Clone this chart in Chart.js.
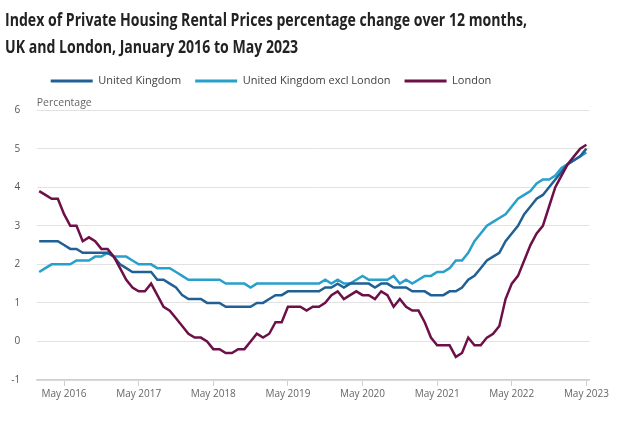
<!DOCTYPE html>
<html><head><meta charset="utf-8">
<script src="https://cdn.jsdelivr.net/npm/chart.js@4"></script>
<style>
html,body{margin:0;padding:0;background:#fff;}
#wrap{position:relative;width:634px;height:427px;overflow:hidden;background:#fff;}
canvas{position:absolute;left:0;top:0;}
#title{position:absolute;left:5px;top:6px;font-family:'Open Sans',sans-serif;font-weight:700;font-size:17px;line-height:27px;color:#222;white-space:nowrap;transform-origin:0 0;}
#title div{display:inline-block;}
</style></head><body>
<div id="wrap">
<canvas id="c" width="634" height="427"></canvas>
<div id="title"><div id="t1"></div><br><div id="t2"></div></div>
</div>
<script>
const titleLines = ['Index of Private Housing Rental Prices percentage change over 12 months,', 'UK and London, January 2016 to May 2023'];
const yAxisLabel = 'Percentage';
const seriesNames = ['United Kingdom', 'United Kingdom excl London', 'London'];
const monthNames = ['Jan','Feb','Mar','Apr','May','Jun','Jul','Aug','Sep','Oct','Nov','Dec'];
const years = [2016, 2017, 2018, 2019, 2020, 2021, 2022, 2023];
const categories = [];
years.forEach(y => monthNames.forEach(m => categories.push(m + ' ' + y)));
categories.length = 89; // January 2016 to May 2023

const ukValues = [
  2.6, 2.6, 2.6, 2.6, 2.5, 2.4, 2.4, 2.3, 2.3, 2.3, 2.3, 2.3,
  2.2, 2.0, 1.9, 1.8, 1.8, 1.8, 1.8, 1.6, 1.6, 1.5, 1.4, 1.2,
  1.1, 1.1, 1.1, 1.0, 1.0, 1.0, 0.9, 0.9, 0.9, 0.9, 0.9, 1.0,
  1.0, 1.1, 1.2, 1.2, 1.3, 1.3, 1.3, 1.3, 1.3, 1.3, 1.4, 1.4,
  1.5, 1.4, 1.5, 1.5, 1.5, 1.5, 1.4, 1.5, 1.5, 1.4, 1.4, 1.4,
  1.3, 1.3, 1.3, 1.2, 1.2, 1.2, 1.3, 1.3, 1.4, 1.6, 1.7, 1.9,
  2.1, 2.2, 2.3, 2.6, 2.8, 3.0, 3.3, 3.5, 3.7, 3.8, 4.0, 4.2,
  4.4, 4.6, 4.7, 4.8, 5.0
];
const ukExclLondonValues = [
  1.8, 1.9, 2.0, 2.0, 2.0, 2.0, 2.1, 2.1, 2.1, 2.2, 2.2, 2.3,
  2.2, 2.2, 2.2, 2.1, 2.0, 2.0, 2.0, 1.9, 1.9, 1.9, 1.8, 1.7,
  1.6, 1.6, 1.6, 1.6, 1.6, 1.6, 1.5, 1.5, 1.5, 1.5, 1.4, 1.5,
  1.5, 1.5, 1.5, 1.5, 1.5, 1.5, 1.5, 1.5, 1.5, 1.5, 1.6, 1.5,
  1.6, 1.5, 1.5, 1.6, 1.7, 1.6, 1.6, 1.6, 1.6, 1.7, 1.5, 1.6,
  1.5, 1.6, 1.7, 1.7, 1.8, 1.8, 1.9, 2.1, 2.1, 2.3, 2.6, 2.8,
  3.0, 3.1, 3.2, 3.3, 3.5, 3.7, 3.8, 3.9, 4.1, 4.2, 4.2, 4.3,
  4.5, 4.6, 4.7, 4.8, 4.9
];
const londonValues = [
  3.9, 3.8, 3.7, 3.7, 3.3, 3.0, 3.0, 2.6, 2.7, 2.6, 2.4, 2.4,
  2.2, 1.9, 1.6, 1.4, 1.3, 1.3, 1.5, 1.2, 0.9, 0.8, 0.6, 0.4,
  0.2, 0.1, 0.1, 0.0, -0.2, -0.2, -0.3, -0.3, -0.2, -0.2, 0.0, 0.2,
  0.1, 0.2, 0.5, 0.5, 0.9, 0.9, 0.9, 0.8, 0.9, 0.9, 1.0, 1.2,
  1.3, 1.1, 1.2, 1.3, 1.2, 1.2, 1.1, 1.3, 1.2, 0.9, 1.1, 0.9,
  0.8, 0.8, 0.5, 0.1, -0.1, -0.1, -0.1, -0.4, -0.3, 0.1, -0.1, -0.1,
  0.1, 0.2, 0.4, 1.1, 1.5, 1.7, 2.1, 2.5, 2.8, 3.0, 3.5, 4.0,
  4.3, 4.6, 4.8, 5.0, 5.1
];
const yTicks = [-1, 0, 1, 2, 3, 4, 5, 6];
const xTickLabels = ['May 2016','May 2017','May 2018','May 2019','May 2020','May 2021','May 2022','May 2023'];
const colors = ['#206095', '#27a0cc', '#6e1048'];

// title text
document.getElementById('t1').textContent = titleLines[0];
document.getElementById('t2').textContent = titleLines[1];
const w1 = document.getElementById('t1').getBoundingClientRect().width;
document.getElementById('title').style.transform = 'scaleX(' + (522 / w1) + ')';

const toPoints = vals => vals.map((v, i) => ({x: i, y: v}));
const seriesValues = [ukValues, ukExclLondonValues, londonValues];
const xTickIdx = xTickLabels.map(l => categories.indexOf(l));

Chart.defaults.font.family = "'Open Sans', sans-serif";

new Chart(document.getElementById('c'), {
  type: 'line',
  data: {
    datasets: seriesNames.map((name, k) => ({
      label: name,
      data: toPoints(seriesValues[k]),
      borderColor: colors[k],
      backgroundColor: colors[k],
      borderWidth: 2.5,
      pointRadius: 0,
      tension: 0,
      fill: false,
      order: k === 2 ? 0 : (k === 0 ? 1 : 2)
    }))
  },
  options: {
    responsive: false,
    animation: false,
    devicePixelRatio: 1,
    layout: {padding: {top: 61.5, left: 0, right: 44.5, bottom: 25}},
    plugins: {
      legend: {
        position: 'top', align: 'start', fullSize: false,
        labels: {
          boxWidth: 42, boxHeight: 3, padding: 14,
          color: '#414042',
          font: {size: 11},
          sort: (a, b) => a.datasetIndex - b.datasetIndex,
          generateLabels: chart => Chart.defaults.plugins.legend.labels.generateLabels(chart).map(l => Object.assign(l, {lineWidth: 0}))
        }
      },
      title: {
        display: true, text: yAxisLabel, position: 'top', align: 'start', fullSize: false, weight: 500,
        color: '#666', font: {size: 10.5, weight: 'normal'}, padding: {top: 0, bottom: 1}
      },
      tooltip: {enabled: false}
    },
    scales: {
      x: {
        type: 'linear', min: -0.4, max: 88.5,
        afterBuildTicks: s => { s.ticks = xTickIdx.map(v => ({value: v})); },
        ticks: {callback: v => categories[v], color: '#666', font: {size: 10}, padding: 2, maxRotation: 0, autoSkip: false},
        grid: {drawOnChartArea: false, drawTicks: true, tickLength: 6, tickColor: '#cfcfcf', tickWidth: 1},
        border: {display: true, color: '#cfcfcf', width: 1.5}
      },
      y: {
        min: -1, max: 6,
        afterBuildTicks: s => { s.ticks = yTicks.map(v => ({value: v})); },
        afterFit: s => { s.width = 36.7; },
        ticks: {color: '#555', font: {size: 10}, padding: 16.5},
        grid: {color: '#e2e2e2', lineWidth: 1, drawTicks: false},
        border: {display: false}
      }
    }
  }
});
</script>
</body></html>
